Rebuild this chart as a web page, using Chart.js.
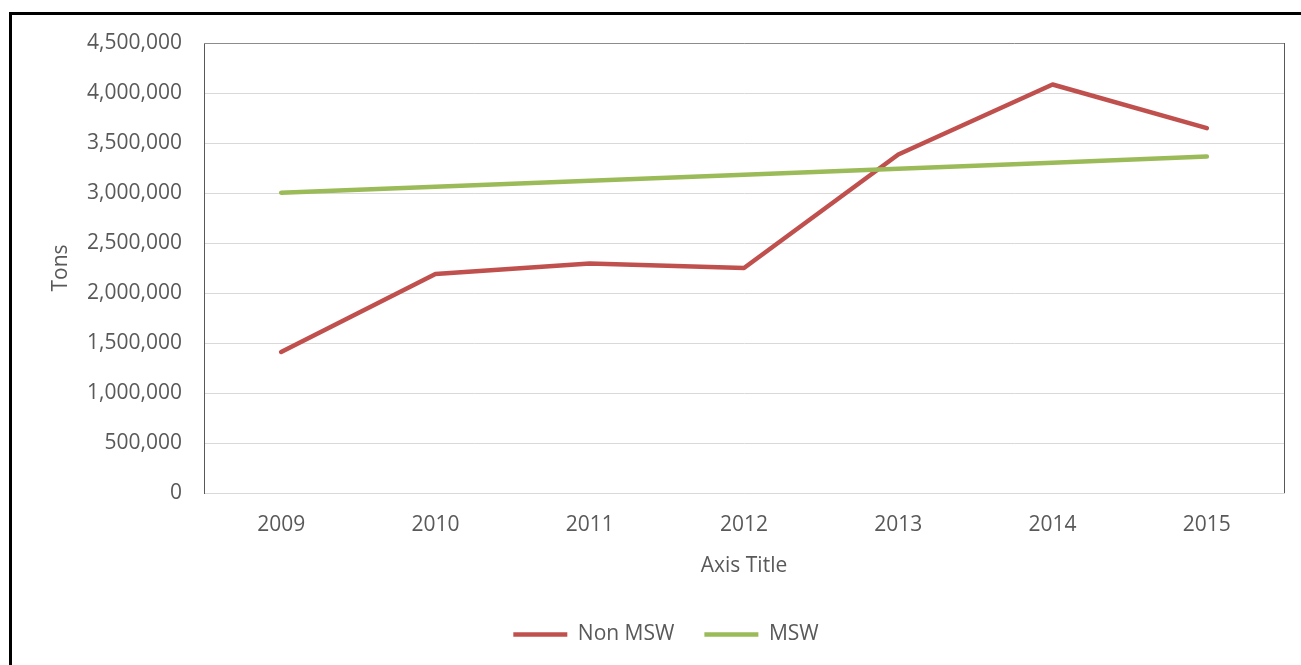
<!DOCTYPE html>
<html>
<head>
<meta charset="utf-8">
<script src="https://cdn.jsdelivr.net/npm/chart.js@4/dist/chart.umd.min.js"></script>
<style>
  html, body { margin: 0; padding: 0; background: #fff; }
  #wrap { position: relative; width: 1301px; height: 665px; overflow: hidden; }
  #frame { position: absolute; left: 9px; top: 12px; width: 1300px; height: 700px;
           border-left: 3px solid #000; border-top: 3px solid #000; box-sizing: border-box; }
  canvas { position: absolute; left: 0; top: 0; }
</style>
</head>
<body>
<div id="wrap">
  <div id="frame"></div>
  <canvas id="chart" width="1301" height="665"></canvas>
</div>
<script>
const years = ['2009', '2010', '2011', '2012', '2013', '2014', '2015'];
const nonMsw = [1410000, 2190000, 2295000, 2250000, 3385000, 4085000, 3648000];
const msw = [3003000, 3063000, 3123000, 3183000, 3243000, 3303000, 3365000];
const yMax = 4500000;
const yStep = 500000;

const txt = '#595959';
const fontFam = "'Open Sans', 'Noto Sans', sans-serif";
const fs = 21;

// plot area frame (top and right edges)
const frameLines = {
  id: 'frameLines',
  afterDraw(chart) {
    const { ctx, chartArea: a } = chart;
    ctx.save();
    ctx.strokeStyle = '#8c8c8c';
    ctx.lineWidth = 1;
    ctx.beginPath();
    ctx.moveTo(a.left, a.top + 0.5);
    ctx.lineTo(a.right + 0.5, a.top + 0.5);
    ctx.stroke();
    ctx.strokeStyle = '#595959';
    ctx.beginPath();
    ctx.moveTo(a.right + 0.5, a.top);
    ctx.lineTo(a.right + 0.5, a.bottom);
    ctx.stroke();
    ctx.restore();
  }
};

new Chart(document.getElementById('chart').getContext('2d'), {
  type: 'line',
  data: {
    labels: years,
    datasets: [
      { label: 'Non MSW', data: nonMsw, borderColor: '#C0504D', backgroundColor: '#C0504D',
        borderWidth: 4.5, pointRadius: 0, borderCapStyle: 'round', borderJoinStyle: 'round',
        tension: 0, order: 1 },
      { label: 'MSW', data: msw, borderColor: '#9BBB59', backgroundColor: '#9BBB59',
        borderWidth: 4.5, pointRadius: 0, borderCapStyle: 'round', borderJoinStyle: 'round',
        tension: 0, order: 0 }
    ]
  },
  options: {
    responsive: false,
    animation: false,
    layout: { padding: { top: 43, right: 17, left: 48, bottom: 10 } },
    scales: {
      x: {
        offset: true,
        grid: { display: false, drawTicks: false },
        border: { color: '#d9d9d9', width: 1 },
        ticks: { color: txt, font: { family: fontFam, size: fs }, padding: 19, maxRotation: 0 },
        title: { display: true, text: 'Axis Title', color: txt, font: { family: fontFam, size: fs },
                 padding: { top: 0, bottom: 15 } },
        afterFit(s) { s.height = 101; }
      },
      y: {
        min: 0, max: yMax,
        grid: { color: '#d9d9d9', drawTicks: false },
        border: { color: '#595959', width: 1 },
        ticks: { stepSize: yStep, color: txt, font: { family: fontFam, size: fs }, padding: 22,
                 callback: v => v.toLocaleString('en-US') },
        title: { display: true, text: 'Tons', color: txt, font: { family: fontFam, size: fs },
                 padding: { top: 0, bottom: 0 } },
        afterFit(s) { s.width = 156; }
      }
    },
    plugins: {
      legend: {
        position: 'bottom',
        labels: {
          color: txt,
          font: { family: fontFam, size: fs },
          usePointStyle: true,
          pointStyle: 'line',
          boxWidth: 44,
          pointStyleWidth: 54,
          padding: 30,
          sort: (a, b) => a.datasetIndex - b.datasetIndex
        }
      },
      tooltip: { enabled: false }
    }
  },
  plugins: [frameLines]
});
</script>
</body>
</html>
